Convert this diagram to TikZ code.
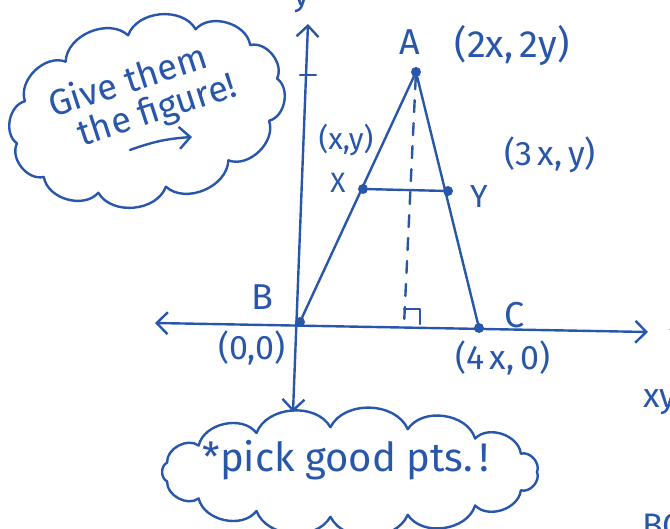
\documentclass[tikz,border=0pt]{standalone}
\usepackage{fontspec}
\setmainfont{Fira Sans}
\usetikzlibrary{arrows.meta}
\definecolor{ink}{RGB}{40,86,170}
\begin{document}
\begin{tikzpicture}[x=1pt,y=-1pt,
  inkline/.style={draw=ink,line width=2.4pt,line cap=round,line join=round},
  barb/.tip={Straight Barb[length=11pt,width=22pt,line width=2.4pt]},
  dot/.style={circle,fill=ink,inner sep=0pt,minimum size=10pt},
  lbl/.style={text=ink,font=\fontsize{34}{38}\selectfont,inner sep=1pt},
  puff/.style={bend left=65}
]
\useasboundingbox (0,0) rectangle (670,529);

% cloud 1
\begin{scope}[shift={(147,111)},rotate=14]
\draw[inkline] (0:134 and 78) foreach \a in {30,60,...,330} { to[puff] (\a:134 and 78) } to[puff] (0:134 and 78);
\end{scope}
\node[text=ink,font=\fontsize{36}{40}\selectfont,rotate=18,align=left] (t1) at (143,97) {Give them\\[-4pt]\ \ the figure!};
\coordinate (u1) at (130,150);
\coordinate (u2) at (192,137);
\draw[inkline,-barb] (u1) to[bend left=8] (u2);

% cloud 2
\begin{scope}[shift={(350,472)}]
\draw[inkline] (0:187 and 45) foreach \a in {24,48,...,336} { to[puff] (\a:187 and 45) } to[puff] (0:187 and 45);
\end{scope}
\node[text=ink,font=\fontsize{40}{44}\selectfont] (t2) at (346,460) {*pick good pts.\,!};

% axes
\coordinate (ytop) at (308,24);
\coordinate (ybot) at (293,412);
\coordinate (xl) at (155,323);
\coordinate (xr) at (648,332);
\draw[inkline,barb-barb] (ybot) -- (ytop);
\draw[inkline,barb-barb] (xl) -- (xr);
\coordinate (tk1) at (300,75);
\coordinate (tk2) at (316,75);
\draw[inkline] (tk1) -- (tk2);

% points
\node[dot] (B) at (300,322) {};
\node[dot] (C) at (479,328) {};
\node[dot] (A) at (416,72) {};
\node[dot] (X) at (363,189) {};
\node[dot] (Y) at (448,191) {};
\coordinate (F) at (404,325);

\draw[inkline] (B) -- (A) -- (C);
\draw[inkline] (X) -- (Y);
\draw[inkline,dash pattern=on 12pt off 11pt] (A) -- (F);
\coordinate (r1) at (404,309);
\coordinate (r2) at (420,309);
\coordinate (r3) at (420,324);
\draw[inkline,line width=2.2pt] (r1) -- (r2) -- (r3);

% labels
\node[lbl,font=\fontsize{36}{40}\selectfont] (lA) at (410,42) {A};
\node[lbl,font=\fontsize{38}{42}\selectfont] (lA2) at (512,45) {(2x,\,2y)};
\node[lbl,font=\fontsize{30}{34}\selectfont] (lX2) at (346,140) {(x,y)};
\node[lbl,font=\fontsize{28}{32}\selectfont] (lX) at (338,183) {X};
\node[lbl,font=\fontsize{32}{36}\selectfont] (lY) at (479,196) {Y};
\node[lbl,font=\fontsize{34}{38}\selectfont] (lY2) at (550,155) {(3\,x,\,y)};
\node[lbl,font=\fontsize{36}{40}\selectfont] (lB) at (262,297) {B};
\node[lbl] (lB2) at (252,348) {(0,0)};
\node[lbl,font=\fontsize{36}{40}\selectfont] (lC) at (515,315) {C};
\node[lbl] (lC2) at (503,358) {(4\,x,\,0)};

% partial marks at the edges
\node[lbl] (ly) at (302,0) {y};
\node[lbl] (lx) at (678,322) {x};
\node[lbl] (lxy) at (660,402) {xy};
\node[lbl] (lbc) at (662,526) {BC};
\end{tikzpicture}
\end{document}
